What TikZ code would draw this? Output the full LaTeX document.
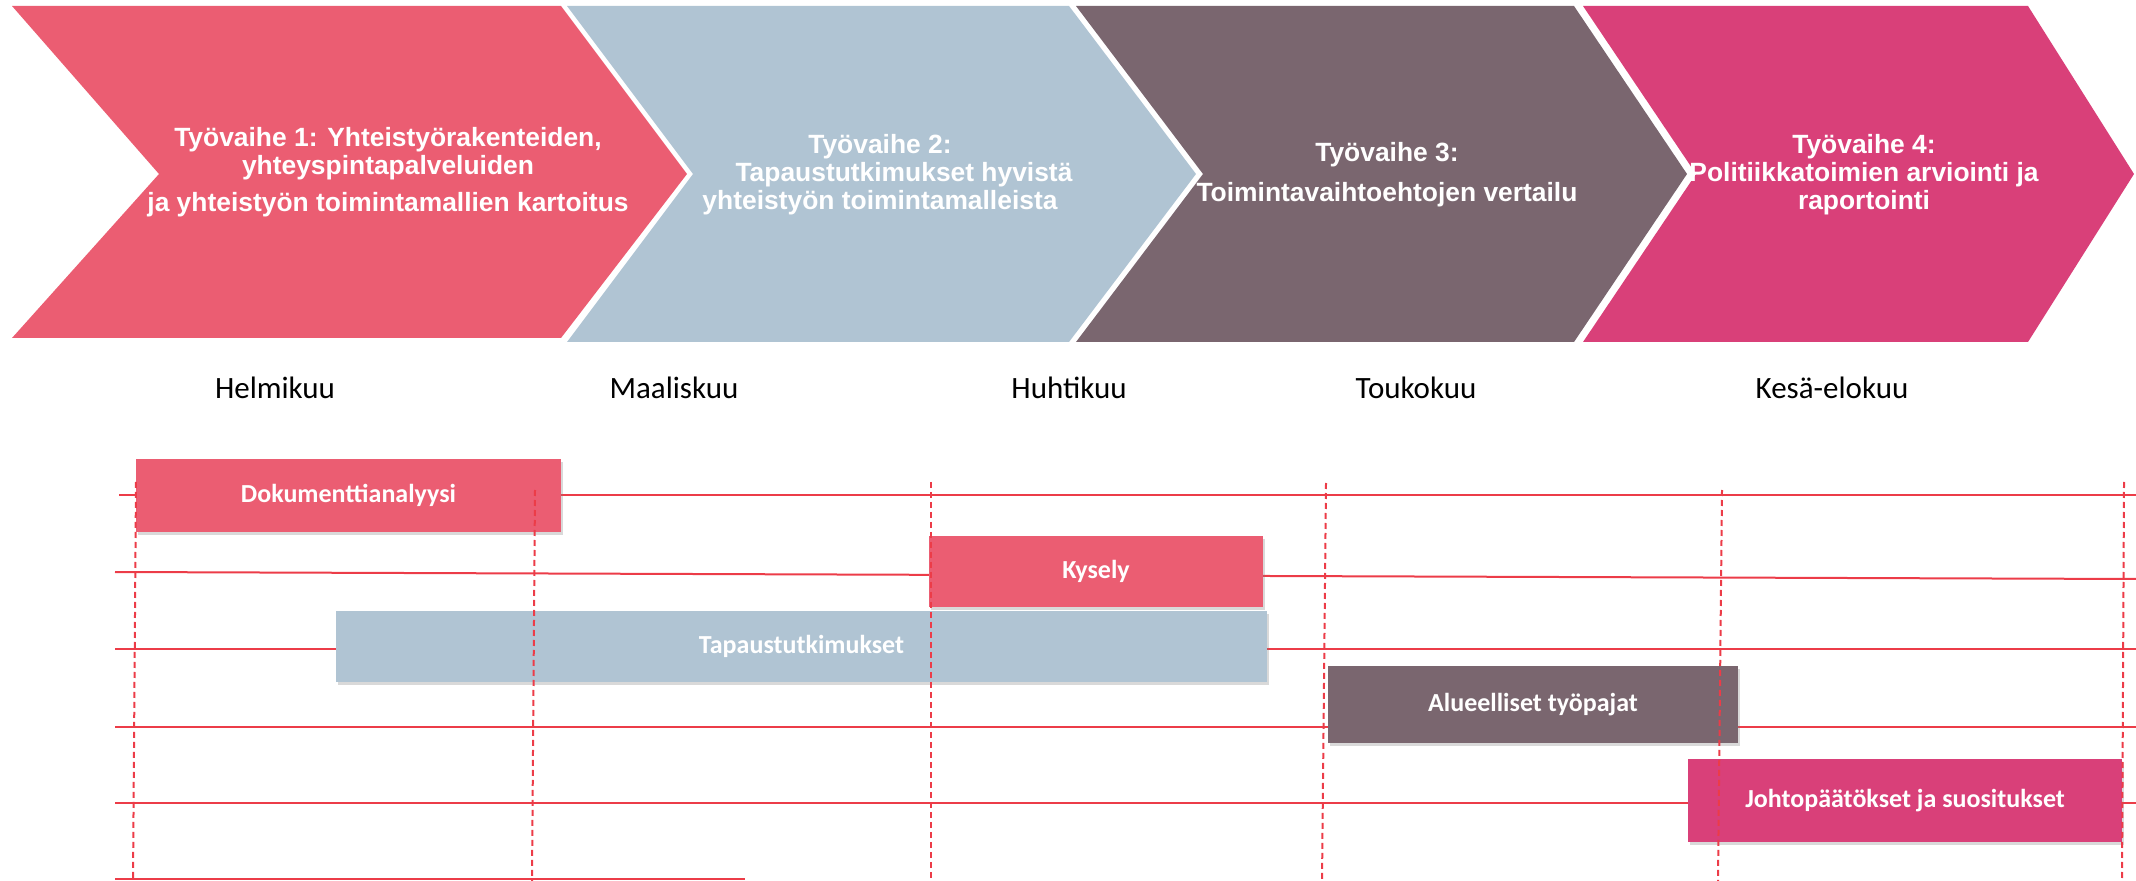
\documentclass[tikz,border=0pt]{standalone}
\usepackage{fontspec}
\setmainfont{Carlito}
\newfontfamily\headfont{Liberation Sans}
\usetikzlibrary{shadows}
\definecolor{wpred}{RGB}{235,93,114}
\definecolor{wpblue}{RGB}{176,196,211}
\definecolor{wpmauve}{RGB}{122,102,111}
\definecolor{wppink}{RGB}{217,64,121}
\definecolor{gridred}{RGB}{236,60,72}

\begin{document}
\begin{tikzpicture}[x=0.5pt, y=-0.5pt,
    phase/.style={text=white, align=center, font=\headfont\bfseries\fontsize{13.2}{14}\selectfont},
    month/.style={font=\fontsize{15.5}{18}\selectfont},
    bar/.style={text=white, font=\bfseries\fontsize{13}{15}\selectfont, inner sep=0pt,
                drop shadow={shadow xshift=0.8pt, shadow yshift=-1.6pt, opacity=0.3}},
    gridline/.style={gridred, line width=1pt},
    timeline/.style={gridred, line width=1pt, dash pattern=on 3pt off 2pt}]
  \useasboundingbox (0,0) rectangle (2136,881);

  % work phases
  \def\ym{174}
  \foreach \xa/\da/\xb/\db/\yb/\col in {12/147/561/126/338/wpred, 567/126/1069/127/342/wpblue,
                                        1076/127/1574/113/342/wpmauve, 1583/113/2028/106/342/wppink}{
    \fill[\col] (\xa,6) -- (\xb,6) -- (\xb+\db,\ym) -- (\xb,\yb) -- (\xa,\yb) -- (\xa+\da,\ym) -- cycle;
  }
  \node[phase] (wp1) at (388,172) {Työvaihe 1: Yhteistyörakenteiden,\\ yhteyspintapalveluiden\\[4.5pt] ja yhteistyön toimintamallien kartoitus};
  \node[phase] (wp2) at (880,175) {Työvaihe 2:\\ \hspace*{24pt}Tapaustutkimukset hyvistä\\ yhteistyön toimintamalleista};
  \node[phase] (wp3) at (1387,175) {Työvaihe 3:\\[6pt] Toimintavaihtoehtojen vertailu};
  \node[phase] (wp4) at (1864,175) {Työvaihe 4:\\ Politiikkatoimien arviointi ja\\ raportointi};

  % months
  \foreach \name/\x/\txt in {helmi/275/Helmikuu, maalis/674/Maaliskuu, huhti/1069/Huhtikuu,
                             touko/1416/Toukokuu, kesa/1832/Kesä-elokuu}
    \node[month] (\name) at (\x,388) {\txt};

  % grid
  \draw[gridline] (119,495) -- (2136,495);
  \draw[gridline] (115,572) -- (2136,579);
  \foreach \y in {649,727,803}
    \draw[gridline] (115,\y) -- (2136,\y);
  \draw[gridline] (115,879) -- (745,879);

  % tasks
  \foreach \name/\cx/\cy/\w/\h/\col/\txt in {dok/348.5/495.5/212.5/36.5/wpred/Dokumenttianalyysi,
                                            kys/1096/571.5/167/35.5/wpred/Kysely,
                                            tap/801.5/646.5/465.5/35.5/wpblue/Tapaustutkimukset,
                                            alu/1533/704.5/205/38.5/wpmauve/Alueelliset työpajat,
                                            joh/1905/800.5/217/41.5/wppink/Johtopäätökset ja suositukset}
    \node[bar, fill=\col, minimum width=\w pt, minimum height=\h pt] (\name) at (\cx,\cy) {\txt};

  \foreach \xa/\ya/\xb in {136/482/133, 535/490/532, 931/482/931, 1326/483/1322, 1722/490/1718, 2124/482/2122}
    \draw[timeline] (\xa,\ya) -- (\xb,881);
\end{tikzpicture}
\end{document}
